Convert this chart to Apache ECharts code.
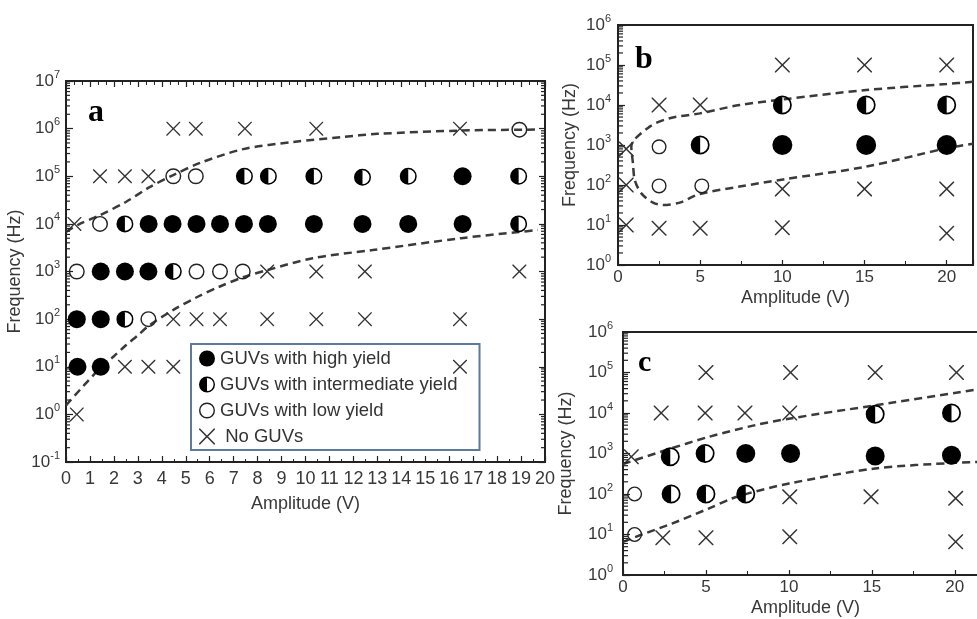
<!DOCTYPE html>
<html><head><meta charset="utf-8">
<script src="https://cdn.jsdelivr.net/npm/echarts/dist/echarts.min.js"></script>
<style>html,body{margin:0;padding:0;background:#fff}#chart{width:977px;height:619px}</style>
</head><body><div id="chart"></div>
<script>
// ---------------- Panel a ----------------
const aHigh = [[3.45,10000],[4.45,10000],[5.45,10000],[6.43,10000],[7.43,10000],[8.43,10000],[10.35,10000],[12.38,10000],[14.29,10000],[16.56,10000],
  [16.56,100000],[1.45,1000],[2.46,1000],[3.44,1000],[0.45,100],[1.45,100],[0.48,10],[1.45,10]];
const aMid = [[7.45,100000],[8.45,100000],[10.35,100000],[12.38,95000],[14.29,100000],[18.9,100000],[2.46,10000],[18.9,10000],[4.48,1000],[2.46,100]];
const aLow = [[18.93,950000],[4.48,100000],[5.42,100000],[1.42,10000],[0.45,1000],[5.45,1000],[6.43,1000],[7.38,1000],[3.44,100]];
const aNone = [[4.48,1000000],[5.42,1000000],[7.47,1000000],[10.45,1000000],[16.45,1000000],
  [1.42,100000],[2.46,100000],[3.44,100000],[0.35,10000],
  [8.4,1000],[10.45,1000],[12.48,1000],[18.93,1000],
  [4.48,100],[5.45,100],[6.43,100],[8.4,100],[10.45,100],[12.48,100],[16.45,100],
  [2.46,10],[3.44,10],[4.48,10],[16.45,10],[0.45,1]];
const aUpper = [[0,6760],[0.5,9550],[1.4,15100],[2.5,28800],[3.45,57500],[4.5,107000],[5.6,190500],[7.4,371500],[9.5,525000],[11.5,661000],[13,776000],[16.5,912000],[19.7,955000]];
const aLower = [[0,1.55],[1.4,9.1],[2.0,16.6],[2.5,28.2],[3.0,45.7],[3.45,72.4],[4.5,158],[5.5,295],[6.4,479],[7.4,759],[8.4,1070],[10.3,1905],[12.8,2820],[16.5,5010],[18.9,6760],[19.7,7410]];
const aXTicks = [0,20,1];        // min, max, interval
const aYRange = [0.1, 1e7];

// ---------------- Panel b ----------------
const bHigh = [[10,1000],[15.1,1000],[20,1000]];
const bMid = [[10,10000],[15.1,10000],[20,10000],[5,1000]];
const bLow = [[2.5,900],[2.5,95],[5.1,95]];
const bNone = [[0.5,800],[0.5,100],[0.5,10],[2.5,10000],[5,10000],[10,100000],[15,100000],[20,100000],
  [10,80],[15,80],[20,80],[2.5,8.3],[5,8.3],[10,8.5],[20,6.2]];
const bCurve = [[21.6,38000],[20,33500],[15.1,23700],[10.05,13800],[7.4,10000],[4.97,6170],[3.15,4680],[1.93,2880],[0.81,912],
  [0.91,347],[1.02,133],[1.42,61.7],[2.13,36.3],[2.74,31.6],[3.76,36.3],[4.97,59.6],[7.4,91.2],[10.05,138],[15.1,288],[20,832],[21.6,1070]];
const bXTicks = [0,21.6,5];
const bYRange = [1, 1e6];

// ---------------- Panel c ----------------
const cHigh = [[7.4,1000],[10.1,1000],[15.2,870],[19.8,910]];
const cMid = [[2.85,830],[4.95,1000],[15.2,9300],[19.8,10000],[2.9,100],[5.0,100],[7.4,100]];
const cLow = [[0.7,100],[0.7,10]];
const cNone = [[0.5,830],[2.3,10000],[4.95,10000],[7.35,10000],[10.05,10000],[5,100000],[10.1,100000],[15.2,100000],[20.1,100000],
  [10.05,85],[14.95,85],[20.05,78],[2.4,8.3],[5,8.3],[10.05,8.8],[20.05,6.6]];
const cUpper = [[0,550],[2.55,1200],[5.16,2570],[7.97,5010],[10,7240],[15.2,15500],[22,41700]];
const cLower = [[0,6.6],[1.14,10],[2.95,18.6],[5.16,43.7],[6.57,77.6],[7.6,105],[10,182],[15.2,427],[20,589],[22,631]];
const cXTicks = [0,22,5];
const cYRange = [1, 1e6];

const seriesNames = ['GUVs with high yield','GUVs with intermediate yield','GUVs with low yield','No GUVs'];
const panelLabels = ['a','b','c'];

// ---------------- styling ----------------
const FONT = 'Liberation Sans';
const TXT = '#383838';
const AX = '#222';
const SYM_FULL = 'circle';
const SYM_RING = 'path://M50,0 A50,50 0 0,1 100,50 A50,50 0 0,1 50,100 A50,50 0 0,1 0,50 A50,50 0 0,1 50,0 Z M50,9 A41,41 0 0,0 9,50 A41,41 0 0,0 50,91 A41,41 0 0,0 91,50 A41,41 0 0,0 50,9 Z';
const SYM_HALF = SYM_RING + ' M50,100 A50,50 0 0,1 0,50 A50,50 0 0,1 50,0 Z';
const SYM_X = 'path://M0,0 L7,0 L50,43 L93,0 L100,0 L100,7 L57,50 L100,93 L100,100 L93,100 L50,57 L7,100 L0,100 L0,93 L43,50 L0,7 Z';

function supLabel(v){ const e = Math.round(Math.log10(v)); return '{b|10}{s|' + e + '}'; }
function yLabel(margin, size){
  return {formatter: supLabel, margin: margin,
    rich:{b:{fontSize:size, fontFamily:FONT, color:TXT, lineHeight:24},
          s:{fontSize:11, fontFamily:FONT, color:TXT, verticalAlign:'top'}}};
}
// log-spaced minor tick positions of an axis (2..9 x 10^n)
function logMinorTicks(loExp, hiExp, xVal){
  const out = [];
  for (let e = loExp; e < hiExp; e++) for (let k = 2; k <= 9; k++) out.push([xVal, k * Math.pow(10, e)]);
  return out;
}
function tickSeries(xi, yi, data, dir, len){
  return {type:'scatter', name:'minor ticks', xAxisIndex:xi, yAxisIndex:yi, silent:true, clip:false, z:6, data:data,
    symbol:'rect', symbolSize:[len, 1.2], symbolOffset:[dir*len/2, 0],
    itemStyle:{color:AX, opacity:1}, emphasis:{disabled:true}};
}
function sc(name, data, xi, yi, sym, size, color){
  return {type:'scatter', name:name, data:data, xAxisIndex:xi, yAxisIndex:yi, symbol:sym, symbolSize:size,
    itemStyle:{color:color, opacity:1}, z:4, silent:true, emphasis:{disabled:true}};
}
function curve(data, xi, yi){
  return {type:'line', name:'boundary', data:data, xAxisIndex:xi, yAxisIndex:yi, showSymbol:false, symbol:'none',
    smooth:0.3, silent:true, z:3, lineStyle:{color:'#3a3a3a', width:2.5, type:[8,5]}};
}
function xAx(grid, t, opts){
  return Object.assign({gridIndex:grid, type:'value', min:t[0], max:t[1], interval:t[2], position:'bottom',
    axisLine:{onZero:false, lineStyle:{color:AX, width:2}},
    axisTick:{inside:true, length:6, lineStyle:{color:AX, width:1.2}},
    minorTick:{show:true, splitNumber:2, length:3, lineStyle:{color:AX, width:1}},
    splitLine:{show:false},
    nameLocation:'middle', nameTextStyle:{fontSize:18, color:TXT, fontFamily:FONT}}, opts);
}
function yAx(grid, r, opts){
  return Object.assign({gridIndex:grid, type:'log', logBase:10, min:r[0], max:r[1], position:'left',
    axisLine:{onZero:false, lineStyle:{color:AX, width:2}},
    axisTick:{inside:true, length:7, lineStyle:{color:AX, width:1.2}},
    splitLine:{show:false}, minorTick:{show:false},
    nameLocation:'middle', nameTextStyle:{fontSize:18, color:TXT, fontFamily:FONT}}, opts);
}

const chart = echarts.init(document.getElementById('chart'), null, {renderer:'canvas'});
const gridBase = {show:true, borderColor:AX, borderWidth:2, backgroundColor:'transparent', containLabel:false, outerBoundsMode:'none'};
const option = {
  animation:false,
  backgroundColor:'#fff',
  grid:[
    Object.assign({left:66, top:81, width:479, height:381}, gridBase),
    Object.assign({left:618, top:25, width:355, height:240}, gridBase),
    Object.assign({left:623, top:332, width:365, height:243}, gridBase)
  ],
  xAxis:[
    xAx(0, aXTicks, {name:'Amplitude (V)', nameGap:33, axisLabel:{fontSize:18, color:TXT, fontFamily:FONT, margin:8}}),
    xAx(0, aXTicks, {position:'top', axisLabel:{show:false}, axisTick:{inside:true, length:6, lineStyle:{color:AX, width:1.2}},
      minorTick:{show:true, splitNumber:3, length:4, lineStyle:{color:AX}}}),
    xAx(1, bXTicks, {name:'Amplitude (V)', nameGap:24, axisLabel:{fontSize:17, color:TXT, fontFamily:FONT, margin:4, showMaxLabel:false},
      axisTick:{inside:true, length:5, lineStyle:{color:AX, width:1.2}}, minorTick:{show:true, splitNumber:2, length:4, lineStyle:{color:AX}}}),
    xAx(2, cXTicks, {name:'Amplitude (V)', nameGap:24, axisLabel:{fontSize:17, color:TXT, fontFamily:FONT, margin:4, showMaxLabel:false},
      axisTick:{inside:true, length:5, lineStyle:{color:AX, width:1.2}}, minorTick:{show:true, splitNumber:2, length:4, lineStyle:{color:AX}}})
  ],
  yAxis:[
    yAx(0, aYRange, {name:'Frequency (Hz)', nameGap:42, axisLabel:yLabel(6, 17)}),
    yAx(0, aYRange, {position:'right', axisLabel:{show:false}, axisTick:{inside:true, length:6, lineStyle:{color:AX, width:1.2}}}),
    yAx(1, bYRange, {name:'Frequency (Hz)', nameGap:39, axisLabel:yLabel(7, 17)}),
    yAx(2, cYRange, {name:'Frequency (Hz)', nameGap:48, axisLabel:yLabel(10, 17)})
  ],
  legend:{
    orient:'vertical', left:191, top:344, padding:[5,22,4,8], itemGap:7, itemWidth:16, itemHeight:16, itemStyle:{opacity:1},
    borderColor:'#5d7a9c', borderWidth:2, backgroundColor:'transparent', selectedMode:false, z:2,
    textStyle:{fontSize:18.5, color:'#333', fontFamily:FONT},
    formatter:function(n){ return n === 'No GUVs' ? ' ' + n : n; },
    data:seriesNames
  },
  graphic:[
    {type:'text', left:88, top:97, z:20, style:{text:panelLabels[0], font:'bold 32px "Liberation Serif"', fill:'#000'}},
    {type:'text', left:635, top:44, z:20, style:{text:panelLabels[1], font:'bold 32px "Liberation Serif"', fill:'#000'}},
    {type:'text', left:638, top:348, z:20, style:{text:panelLabels[2], font:'bold 30px "Liberation Serif"', fill:'#000'}}
  ],
  series:[
    curve(aUpper,0,0), curve(aLower,0,0),
    sc(seriesNames[0], aHigh, 0,0, SYM_FULL, 18, '#000'),
    sc(seriesNames[1], aMid, 0,0, SYM_HALF, 17, '#000'),
    sc(seriesNames[2], aLow, 0,0, SYM_RING, 16, '#222'),
    sc(seriesNames[3], aNone, 0,0, SYM_X, 14, '#333'),
    tickSeries(0,0, logMinorTicks(-1,7,aXTicks[0]), 1, 4),
    tickSeries(0,1, logMinorTicks(-1,7,aXTicks[1]), -1, 4),

    curve(bCurve,2,2),
    sc(seriesNames[0], bHigh, 2,2, SYM_FULL, 20, '#000'),
    sc(seriesNames[1], bMid, 2,2, SYM_HALF, 19, '#000'),
    sc(seriesNames[2], bLow, 2,2, SYM_RING, 15, '#222'),
    sc(seriesNames[3], bNone, 2,2, SYM_X, 15, '#333'),
    tickSeries(2,2, logMinorTicks(0,6,bXTicks[0]), 1, 5),

    curve(cUpper,3,3), curve(cLower,3,3),
    sc(seriesNames[0], cHigh, 3,3, SYM_FULL, 19, '#000'),
    sc(seriesNames[1], cMid, 3,3, SYM_HALF, 19, '#000'),
    sc(seriesNames[2], cLow, 3,3, SYM_RING, 15, '#222'),
    sc(seriesNames[3], cNone, 3,3, SYM_X, 15, '#333'),
    tickSeries(3,3, logMinorTicks(0,6,cXTicks[0]), 1, 5)
  ]
};
chart.setOption(option);
</script>
</body></html>
